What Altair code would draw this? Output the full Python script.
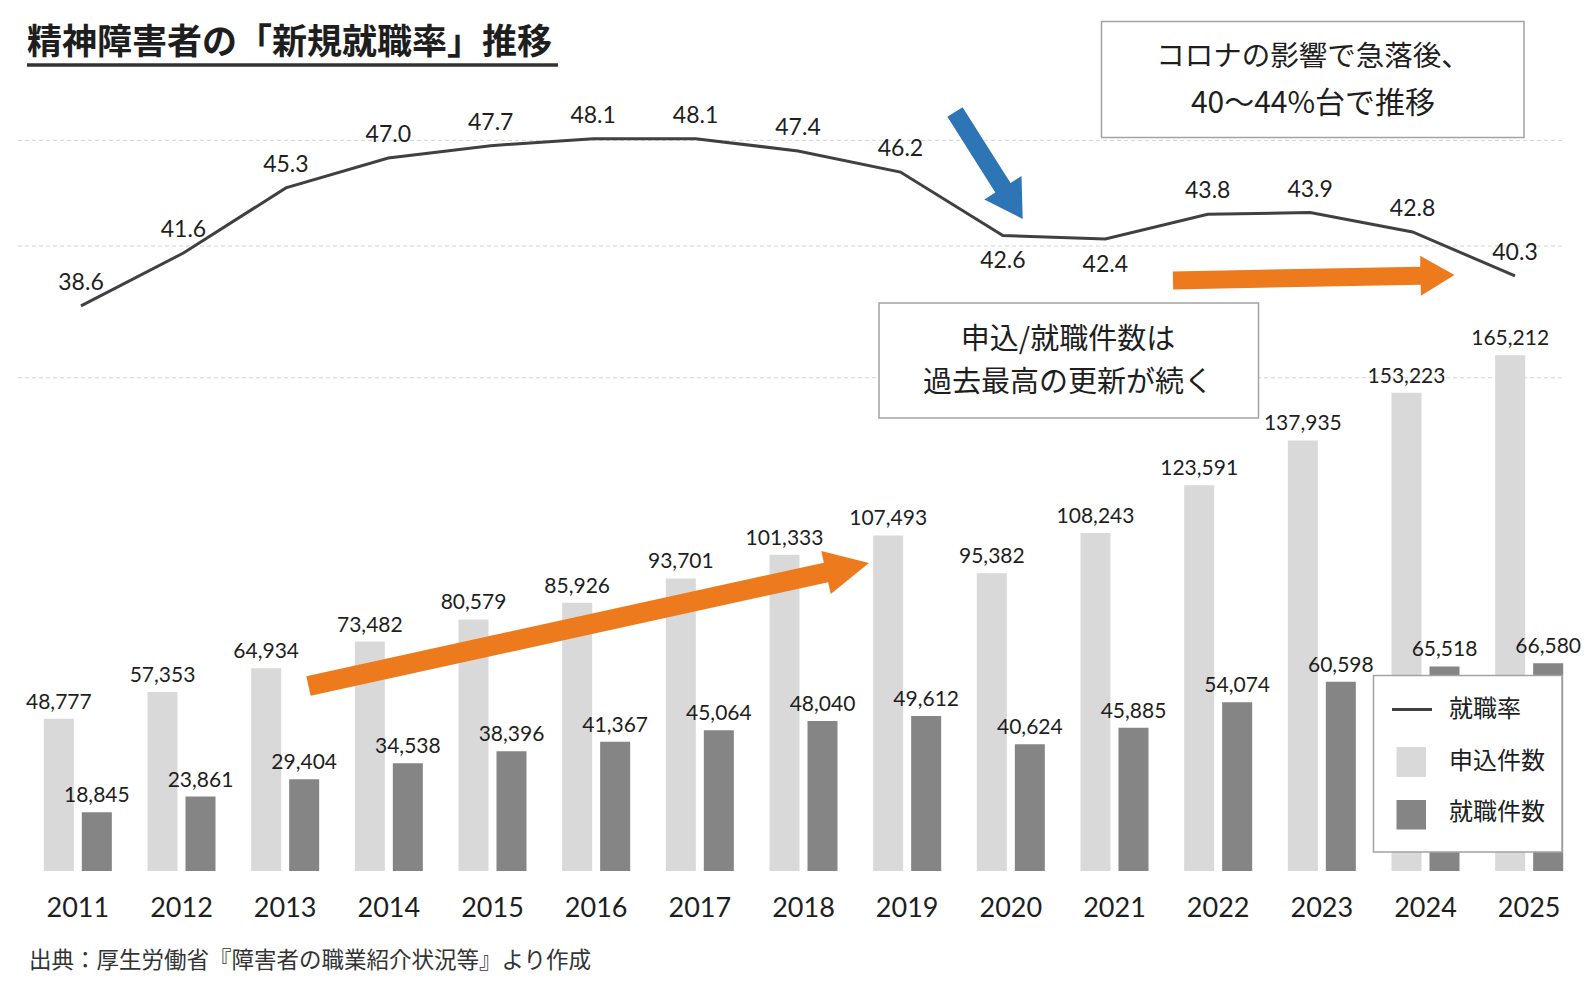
import math
import altair as alt
import pandas as pd

# ---- data ---------------------------------------------------------------
years = ["2011", "2012", "2013", "2014", "2015", "2016", "2017", "2018",
         "2019", "2020", "2021", "2022", "2023", "2024", "2025"]
rate = [38.6, 41.6, 45.3, 47.0, 47.7, 48.1, 48.1, 47.4, 46.2, 42.6, 42.4,
        43.8, 43.9, 42.8, 40.3]
applications = [48777, 57353, 64934, 73482, 80579, 85926, 93701, 101333,
                107493, 95382, 108243, 123591, 137935, 153223, 165212]
placements = [18845, 23861, 29404, 34538, 38396, 41367, 45064, 48040,
              49612, 40624, 45885, 54074, 60598, 65518, 66580]
series_names = ["申込件数", "就職件数"]
rate_name = "就職率"
below_years = ["2020", "2021"]

rate_df = pd.DataFrame({"year": years, "rate": rate})
count_df = pd.DataFrame({
    "year": years * 2,
    "series": [series_names[0]] * len(years) + [series_names[1]] * len(years),
    "count": applications + placements,
})
one = pd.DataFrame({"k": [0]})

# ---- style --------------------------------------------------------------
JP = "Noto Sans CJK JP"
NUM = "Lato"
INK = "#1e1e1e"
X0 = 26            # left padding of the plot area
LIGHT, DARK, LINE = "#D9D9D9", "#858585", "#404040"
BLUE, ORANGE = "#2E75B6", "#EE7A1E"
GRID = dict(strokeDash=[4, 3], color="#D4D4D4", strokeWidth=1)

# ---- counts (bars) ------------------------------------------------------
count_scale = alt.Scale(domain=[0, 279000], range=[871, 0])
x_band = alt.X("year:N", sort=years, axis=None,
               scale=alt.Scale(paddingInner=0.344, paddingOuter=0.172))
x_off = alt.XOffset("series:N", sort=series_names,
                    scale=alt.Scale(paddingInner=0.21, paddingOuter=0))
y_count = alt.Y("count:Q", axis=None, scale=count_scale)

count_grid = alt.Chart(one).mark_rule(**GRID).encode(
    y=alt.YDatum(158000, scale=count_scale, axis=None),
    x=alt.value(-8), x2=alt.value(1537))

bars = alt.Chart(count_df).mark_bar().encode(
    x=x_band, xOffset=x_off, y=y_count,
    color=alt.Color("series:N", legend=None,
                    scale=alt.Scale(domain=series_names, range=[LIGHT, DARK])))

bar_labels = alt.Chart(count_df).mark_text(
    font=NUM, fontSize=21, color=INK, baseline="alphabetic", dy=-10
).encode(x=x_band, xOffset=x_off, y=y_count,
         text=alt.Text("count:Q", format=","))

year_labels = alt.Chart(rate_df).mark_text(
    font=NUM, fontSize=27, color=INK, baseline="alphabetic"
).encode(x=x_band, y=alt.value(917), text="year:N")

bars_group = alt.layer(count_grid, bars, bar_labels, year_labels)

# ---- employment rate (line) ---------------------------------------------
rate_scale = alt.Scale(domain=[30, 50], range=[457.2, 105.2])
x_pt = alt.X("year:N", sort=years, axis=None,
             scale=alt.Scale(type="point", range=[55, 1489], padding=0))
y_rate = alt.Y("rate:Q", axis=None, scale=rate_scale)

rate_grid = [
    alt.Chart(one).mark_rule(**GRID).encode(
        y=alt.YDatum(v, scale=rate_scale, axis=None),
        x=alt.value(-8), x2=alt.value(1537))
    for v in (48, 42)
]

line = alt.Chart(rate_df).mark_line(color=LINE, strokeWidth=3).encode(
    x=x_pt, y=y_rate)

is_below = alt.FieldOneOfPredicate(field="year", oneOf=below_years)
rate_above = alt.Chart(rate_df).transform_filter(~is_below).mark_text(
    font=NUM, fontSize=23, color=INK, baseline="alphabetic", dy=-16
).encode(x=x_pt, y=y_rate, text=alt.Text("rate:Q", format=".1f"))
rate_below = alt.Chart(rate_df).transform_filter(is_below).mark_text(
    font=NUM, fontSize=23, color=INK, baseline="alphabetic", dy=33
).encode(x=x_pt, y=y_rate, text=alt.Text("rate:Q", format=".1f"))

line_group = alt.layer(*rate_grid, line, rate_above, rate_below)


# ---- annotations ----------------------------------------------------------
def text(t, x, y, size, weight="normal", align="center", font=JP, color=INK):
    return alt.Chart(pd.DataFrame({"t": [t]})).mark_text(
        font=font, fontSize=size, fontWeight=weight, align=align,
        baseline="middle", color=color
    ).encode(x=alt.value(x - X0), y=alt.value(y), text="t:N")


def box(x1, y1, x2, y2, fill="white", stroke="#A3A3A3", width=1.5):
    return alt.Chart(one).mark_rect(
        fill=fill, stroke=stroke, strokeWidth=width
    ).encode(x=alt.value(x1 - X0), x2=alt.value(x2 - X0),
             y=alt.value(y1), y2=alt.value(y2))


def hline(x1, x2, y, color, width):
    return alt.Chart(one).mark_rule(color=color, strokeWidth=width).encode(
        x=alt.value(x1 - X0), x2=alt.value(x2 - X0), y=alt.value(y))


def arrow(tail, tip, shaft, head_w, head_len, color):
    (x1, y1), (x2, y2) = tail, tip
    dx, dy = x2 - x1, y2 - y1
    length = math.hypot(dx, dy)
    h = length / 2
    s, hw, bx = shaft / 2 / h, head_w / 2 / h, 1 - head_len / h
    path = (f"M-1,{-s:.4f}L{bx:.4f},{-s:.4f}L{bx:.4f},{-hw:.4f}L1,0"
            f"L{bx:.4f},{hw:.4f}L{bx:.4f},{s:.4f}L-1,{s:.4f}Z")
    ang = math.degrees(math.atan2(dy, dx)) % 360
    return alt.Chart(one).mark_point(
        shape=path, size=length * length, angle=ang, filled=True,
        color=color, opacity=1, strokeWidth=0
    ).encode(x=alt.value((x1 + x2) / 2 - X0), y=alt.value((y1 + y2) / 2))


deco = [
    # title
    text("精神障害者の「新規就職率」推移", 27, 43, 35, weight="bold", align="left"),
    hline(27, 558, 65, "#333333", 3.3),
    # callout: rate
    box(1101.5, 21.5, 1524, 137.5),
    text("コロナの影響で急落後、", 1313, 57, 28.5),
    text("40〜44%台で推移", 1313, 104, 30),
    # callout: counts
    box(879, 303, 1258.5, 418),
    text("申込/就職件数は", 1068, 339.5, 29),
    text("過去最高の更新が続く", 1068, 383, 29),
    # legend
    box(1373.5, 675.5, 1562, 852),
    hline(1392, 1432, 709.5, LINE, 3),
    text(rate_name, 1449, 710, 24, align="left"),
    box(1396.5, 747, 1426, 777, fill=LIGHT, stroke=LIGHT, width=0),
    text(series_names[0], 1449, 762, 24, align="left"),
    box(1396.5, 800, 1426, 829.5, fill=DARK, stroke=DARK, width=0),
    text(series_names[1], 1449, 812.5, 24, align="left"),
    # arrows
    arrow((955, 112), (1022.7, 219), 18, 44, 37, BLUE),
    arrow((1173, 280.5), (1454.5, 275), 18, 40, 34, ORANGE),
    arrow((308.5, 686), (869, 563), 20, 44, 44, ORANGE),
    # source
    text("出典：厚生労働省『障害者の職業紹介状況等』より作成", 29, 960.5, 22.5,
         align="left", color="#333333"),
]

chart = alt.layer(bars_group, line_group, *deco).resolve_scale(
    x="independent", y="independent"
).properties(
    width=1555, height=992,
    padding={"left": X0, "top": 0, "right": 5, "bottom": 0},
    autosize=alt.AutoSizeParams(type="none"),
    background="white",
).configure_view(stroke=None)

chart.save("out.html", embed_options={"renderer": "svg", "actions": False})
